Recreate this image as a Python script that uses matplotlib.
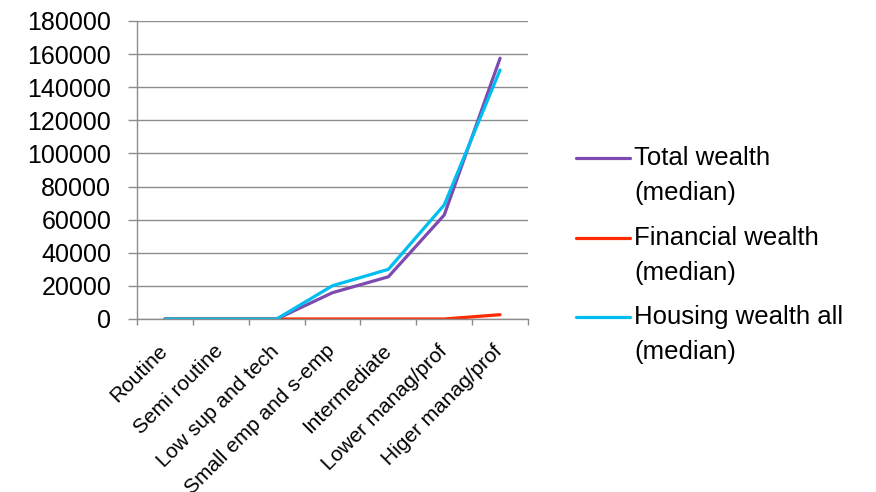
import numpy as np
import matplotlib.pyplot as plt
import matplotlib.transforms as mtransforms
from matplotlib.lines import Line2D

plt.rcParams['font.family'] = ['Liberation Sans', 'DejaVu Sans']

groups = ['Routine', 'Semi routine', 'Low sup and tech', 'Small emp and s-emp',
          'Intermediate', 'Lower manag/prof', 'Higer manag/prof']
total_wealth = [0, 0, 0, 15900, 25500, 62800, 157500]
financial_wealth = [0, 0, 0, 0, 0, 0, 2600]
housing_wealth = [0, 0, 0, 20100, 30000, 68900, 150400]

series = [
    (['Total wealth', '(median)'], total_wealth, '#7D4BB0'),
    (['Financial wealth', '(median)'], financial_wealth, '#FF2A00'),
    (['Housing wealth all', '(median)'], housing_wealth, '#00BFF0'),
]

W, H = 876, 492
fig = plt.figure(figsize=(W / 100, H / 100), dpi=100)
ax = fig.add_axes([137 / W, 1 - 319 / H, (528 - 137) / W, (319 - 21) / H])

x = np.arange(len(groups))
for label, vals, col in series:
    ax.plot(x, vals, color=col, lw=2.3, solid_capstyle='round', solid_joinstyle='round')

ax.set_xlim(-0.5, len(groups) - 0.5)
ax.set_ylim(0, 180000)
ax.set_yticks(np.arange(0, 180001, 20000))
ax.yaxis.grid(True, color='#8c8c8c', lw=1.0)
ax.set_axisbelow(True)

ax.set_xticks(x)
ax.set_xticklabels(groups, rotation=45, ha='right', rotation_mode='anchor', fontsize=15)
ax.set_xticks(np.arange(-0.5, len(groups)), minor=True)
ax.tick_params(axis='x', which='major', length=0, pad=16)
ax.tick_params(axis='x', which='minor', length=4.5, color='#8c8c8c', width=1)
ax.tick_params(axis='y', length=6.5, color='#8c8c8c', width=1, labelsize=18, pad=12)
shift = mtransforms.ScaledTranslation(-7 / 100, 0, fig.dpi_scale_trans)
for lbl in ax.get_xticklabels():
    lbl.set_transform(lbl.get_transform() + shift)

for s in ['top', 'right']:
    ax.spines[s].set_visible(False)
for s in ['left', 'bottom']:
    ax.spines[s].set_color('#8c8c8c')
    ax.spines[s].set_linewidth(1)

# legend drawn by hand so the swatch lines up with the first text line
leg_y = [158, 238, 317]
for (lines, vals, col), yy in zip(series, leg_y):
    yf = 1 - yy / H
    fig.add_artist(Line2D([576 / W, 630 / W], [yf, yf], color=col, lw=2.3,
                          solid_capstyle='round'))
    for i, txt in enumerate(lines):
        fig.text(634 / W, 1 - (yy + 35 * i) / H, txt, fontsize=18.5, va='center', ha='left')

fig.savefig('out.png', dpi=100)
